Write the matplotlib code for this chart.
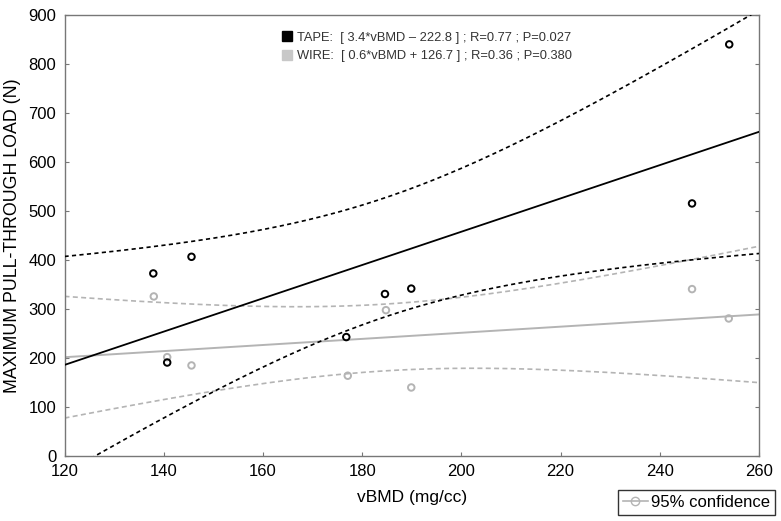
import numpy as np
import matplotlib
matplotlib.use("Agg")
import matplotlib.pyplot as plt
from matplotlib.lines import Line2D

plt.rcParams['font.family'] = ['Liberation Sans', 'DejaVu Sans']

tape_x = [137.9, 145.6, 140.7, 176.8, 184.6, 189.9, 246.5, 254.0]
tape_y = [373, 407, 191, 243, 331, 342, 516, 841]
wire_x = [138.0, 140.7, 145.6, 177.1, 184.8, 189.9, 246.5, 253.9]
wire_y = [326, 202, 185, 164, 298, 140, 341, 281]

tape_label = "TAPE:  [ 3.4*vBMD \u2013 222.8 ] ; R=0.77 ; P=0.027"
wire_label = "WIRE:  [ 0.6*vBMD + 126.7 ] ; R=0.36 ; P=0.380"

T_CRIT = 2.447  # t(0.975, df=6)

def fit_band(x, y, xs):
    x = np.asarray(x, float); y = np.asarray(y, float)
    n = len(x)
    b, a = np.polyfit(x, y, 1)
    pred = a + b * xs
    resid = y - (a + b * x)
    s = np.sqrt(np.sum(resid ** 2) / (n - 2))
    sxx = np.sum((x - x.mean()) ** 2)
    hw = T_CRIT * s * np.sqrt(1.0 / n + (xs - x.mean()) ** 2 / sxx)
    return pred, pred - hw, pred + hw

fig = plt.figure(figsize=(7.81, 5.21), dpi=100)
ax = fig.add_axes([64.5 / 781, 1 - 456 / 521, (759 - 64.5) / 781, (456 - 15.5) / 521])

xs = np.linspace(120, 260, 300)
black = '#000000'
gray = '#b4b4b4'

p, lo, hi = fit_band(wire_x, wire_y, xs)
ax.plot(xs, p, color=gray, lw=1.4, zorder=2)
ax.plot(xs, lo, color=gray, lw=1.2, ls=(0, (3, 2)), zorder=2)
ax.plot(xs, hi, color=gray, lw=1.2, ls=(0, (3, 2)), zorder=2)

p, lo, hi = fit_band(tape_x, tape_y, xs)
ax.plot(xs, p, color=black, lw=1.3, zorder=3)
ax.plot(xs, lo, color=black, lw=1.2, ls=(0, (2.5, 2)), zorder=3)
ax.plot(xs, hi, color=black, lw=1.2, ls=(0, (2.5, 2)), zorder=3)

ax.scatter(wire_x, wire_y, s=22, facecolors='none', edgecolors=gray, linewidths=1.4, zorder=4)
ax.scatter(tape_x, tape_y, s=22, facecolors='none', edgecolors=black, linewidths=1.4, zorder=5)

ax.set_xlim(120, 260)
ax.set_ylim(0, 900)
ax.set_xticks(np.arange(120, 261, 20))
ax.set_yticks(np.arange(0, 901, 100))
ax.tick_params(direction='in', length=3, color='#777777', labelsize=12,
               top=False, right=True, pad=6)
for sp in ax.spines.values():
    sp.set_color('#777777')
    sp.set_linewidth(1.0)

ax.set_xlabel('vBMD (mg/cc)', fontsize=12.5, labelpad=8)
ax.set_ylabel('MAXIMUM PULL-THROUGH LOAD (N)', fontsize=12.8, labelpad=5)

handles = [Line2D([], [], marker='s', ls='none', color=black, markersize=7),
           Line2D([], [], marker='s', ls='none', color='#c8c8c8', markersize=7)]
ax.legend(handles, [tape_label, wire_label], loc='upper left',
          bbox_to_anchor=(0.303, 0.975), frameon=False, fontsize=9.3,
          handletextpad=0.3, labelspacing=0.5, handlelength=1.0, borderaxespad=0,
          labelcolor='#333333')

conf_handle = Line2D([], [], color='#b4b4b4', marker='o', markerfacecolor='none',
                     markevery=[1], markersize=6, lw=1.2)
fig.legend([conf_handle], ['95% confidence'], loc='lower right',
           bbox_to_anchor=(775 / 781, 1 - 515 / 521), fontsize=12,
           frameon=True, fancybox=False, edgecolor='#333333', framealpha=1,
           handlelength=1.5, handletextpad=0.2, borderpad=0.3, borderaxespad=0)

fig.savefig('out.png', dpi=100)
